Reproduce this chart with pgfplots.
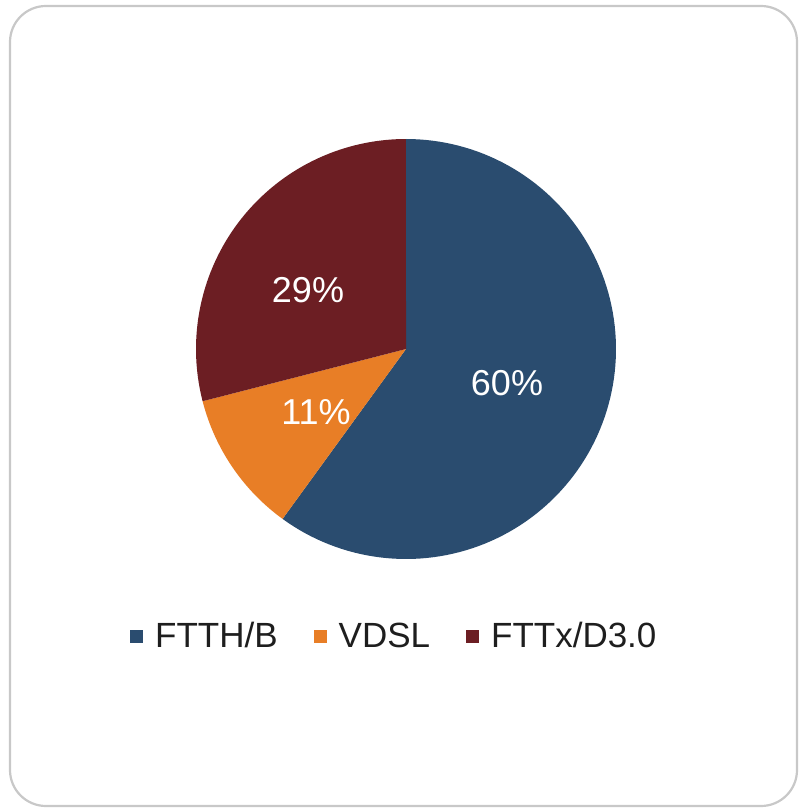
\documentclass[border=0pt]{standalone}
\usepackage{fontspec}
\setmainfont{Liberation Sans}
\usepackage{pgfplots}
\pgfplotsset{compat=1.18}
\definecolor{cBlue}{RGB}{42,76,111}
\definecolor{cOrange}{RGB}{232,126,38}
\definecolor{cRed}{RGB}{108,30,35}
\definecolor{cBorder}{RGB}{200,200,200}
\definecolor{cText}{RGB}{30,30,30}
\begin{document}
\begin{tikzpicture}
\begin{axis}[
 width=803pt, height=810pt, scale only axis,
 xmin=0, xmax=803, ymin=0, ymax=810, y dir=reverse,
 hide axis, clip=false,
 legend columns=3,
 legend style={draw=none, fill=none, at={(axis cs:130,636)}, anchor=west,
   font=\fontsize{35}{40}\selectfont, text=cText, inner sep=0pt,
   /tikz/every odd column/.append style={column sep=10pt},
   /tikz/every even column/.append style={column sep=34pt}},
 legend image code/.code={\fill[#1] (0pt,-6.5pt) rectangle (13pt,6.5pt);},
]
\path (axis cs:0,0) rectangle (axis cs:803,810);
\draw[cBorder, line width=2.2pt, rounded corners=36pt, fill=white] (axis cs:10,6) rectangle (axis cs:797,806);
% shares: FTTH/B 60, VDSL 11, FTTx/D3.0 29 (percent), clockwise from top
\addplot[fill=cBlue, draw=none, domain=90:-126, samples=120] ({406+210*cos(x)},{349-210*sin(x)}) -- (axis cs:406,349) -- cycle;
\addlegendentry{FTTH/B}
\addplot[fill=cOrange, draw=none, domain=-126:-165.6, samples=40] ({406+210*cos(x)},{349-210*sin(x)}) -- (axis cs:406,349) -- cycle;
\addlegendentry{VDSL}
\addplot[fill=cRed, draw=none, domain=-165.6:-270, samples=80] ({406+210*cos(x)},{349-210*sin(x)}) -- (axis cs:406,349) -- cycle;
\addlegendentry{FTTx/D3.0}
\node[text=white, font=\fontsize{36}{40}\selectfont] at (axis cs:507,383) {60\%};
\node[text=white, font=\fontsize{36}{40}\selectfont] at (axis cs:316,412) {11\%};
\node[text=white, font=\fontsize{36}{40}\selectfont] at (axis cs:308,290) {29\%};
\end{axis}
\end{tikzpicture}
\end{document}
